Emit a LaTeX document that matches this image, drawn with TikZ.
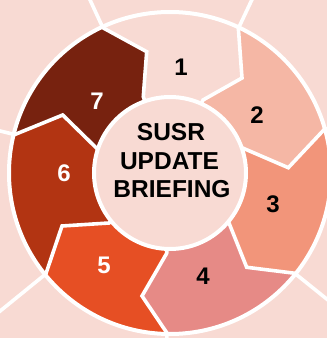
\documentclass[tikz,border=0pt]{standalone}
\usepackage{fontspec}
\setmainfont{Liberation Sans}
\usetikzlibrary{calc}
\definecolor{bg}{HTML}{F8DAD3}
\definecolor{cB}{HTML}{F5B7A5}
\definecolor{cC}{HTML}{F2957A}
\definecolor{cD}{HTML}{E68A86}
\definecolor{cE}{HTML}{E64F24}
\definecolor{cF}{HTML}{B23412}
\definecolor{cG}{HTML}{77220F}
\begin{document}
\begin{tikzpicture}[x=1pt,y=1pt,
  wline/.style={draw=white,line width=3.6pt,line join=miter},
  numlbl/.style={anchor=base,inner sep=0pt,font=\bfseries\fontsize{24}{24}\selectfont},
  titlelbl/.style={anchor=base,inner sep=0pt,font=\bfseries\fontsize{24.5}{28}\selectfont,text=black}]
\useasboundingbox (0,0) rectangle (327,338);
\clip (0,0) rectangle (327,338);
\fill[bg] (0,0) rectangle (327,338);
\coordinate (O) at (170,165);
% chevron middle points
\coordinate (m0) at (146.7,286.3);
\coordinate (m1) at (242,260);
\coordinate (m2) at (288.3,170.3);
\coordinate (m3) at (246.7,70.7);
\coordinate (m4) at (142,42);
\coordinate (m5) at (62,112);
\coordinate (m6) at (62.7,223);
% chevron inner points
\coordinate (i0) at (143.3,241.3);
\coordinate (i1) at (203,238);
\coordinate (i2) at (243.3,189.7);
\coordinate (i3) at (229,115);
\coordinate (i4) at (166.7,84.7);
\coordinate (i5) at (109,115);
\coordinate (i6) at (96.7,189.7);
% segments
\foreach \s/\e/\p/\n/\col in {114.8/64.7/0/1/bg, 64.7/15.7/1/2/cB, 15.7/-38.8/2/3/cC,
    -38.8/-91.1/3/4/cD, -91.1/-140.9/4/5/cE, -140.9/-193.9/5/6/cF, 166.1/114.8/6/0/cG} {
  \fill[\col] ($(O)+(\s:161)$) arc[start angle=\s,end angle=\e,radius=161pt]
    -- (m\n) -- (i\n) -- (O) -- (i\p) -- (m\p) -- cycle;
}
% boundaries
\foreach \k/\a in {0/114.8,1/64.7,2/15.7,3/-38.8,4/-91.1,5/-140.9,6/166.1} {
  \draw[wline] ($(O)+(\a:340)$) -- ($(O)+(\a:160)$) -- (m\k) -- (i\k) -- (O);
}
\draw[draw=white,line width=4pt] (O) circle[radius=161pt];
\node[circle,fill=bg,draw=white,line width=4pt,minimum size=152pt,inner sep=0pt] (hub) at (O) {};
\node[titlelbl] (t1) at (171,197) {SUSR};
\node[titlelbl] (t2) at (169.5,168.7) {UPDATE};
\node[titlelbl] (t3) at (172,140.7) {BRIEFING};
\node[numlbl,text=black] (n1) at (181,262.3) {1};
\node[numlbl,text=black] (n2) at (257,214) {2};
\node[numlbl,text=black] (n3) at (273,125.7) {3};
\node[numlbl,text=black] (n4) at (203,53) {4};
\node[numlbl,text=white] (n5) at (104,64.7) {5};
\node[numlbl,text=white] (n6) at (64,156.3) {6};
\node[numlbl,text=white] (n7) at (97,228) {7};
\end{tikzpicture}
\end{document}
